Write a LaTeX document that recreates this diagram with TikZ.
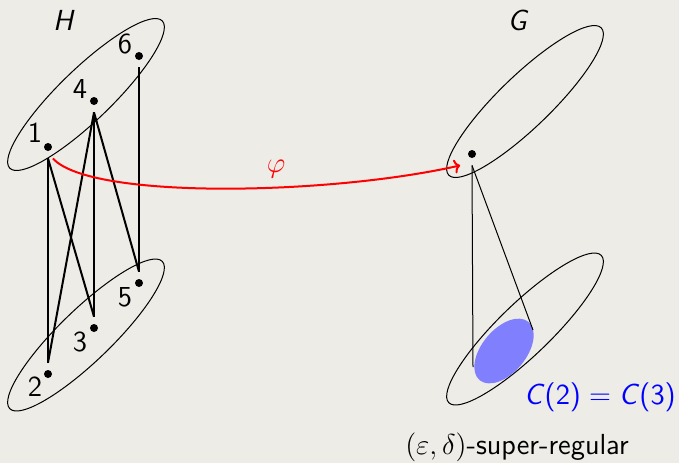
\documentclass[tikz,border=0pt]{standalone}
\usetikzlibrary{arrows.meta}
\definecolor{bg}{RGB}{237,236,231}
\definecolor{blobblue}{RGB}{128,128,255}
\begin{document}
\begin{tikzpicture}[x=0.5pt,y=-0.5pt,
  every node/.style={font=\fontsize{14.5}{17}\selectfont\sffamily},
  vtx/.style={rectangle, inner sep=0pt, minimum width=4.5pt, minimum height=11pt,
    path picture={\fill (path picture bounding box.center) circle (2pt);}},
  edge/.style={line width=1pt},
  setline/.style={line width=0.5pt},
  thin line/.style={line width=0.5pt},
  lbl/.style={inner sep=0pt}]
\fill[bg] (0,0) rectangle (679,463);
\useasboundingbox (0,0) rectangle (679,463);
% sets
\draw[setline, rotate around={44:(86,94.5)}] (86,94.5) ellipse (106 and 26);
\draw[setline, rotate around={44:(86,335)}] (86,335) ellipse (106 and 26);
\draw[setline, rotate around={44:(525,101.5)}] (525,101.5) ellipse (106 and 26);
\draw[setline, rotate around={44:(525,329)}] (525,329) ellipse (106 and 26);
\fill[blobblue, rotate around={50:(504,351)}] (504,351) ellipse (38 and 22);
% vertices of H
\node[vtx] (v1) at (48,147) {};
\node[vtx] (v4) at (94,101) {};
\node[vtx] (v6) at (139,56) {};
\node[vtx] (v2) at (48,374) {};
\node[vtx] (v3) at (94,328) {};
\node[vtx] (v5) at (139,283) {};
\node[lbl] (l1) at (35,133) {1};
\node[lbl] (l4) at (80,89) {4};
\node[lbl] (l6) at (125,44) {6};
\node[lbl] (l2) at (35,387) {2};
\node[lbl] (l3) at (80,342) {3};
\node[lbl] (l5) at (125,297) {5};
\node[lbl] (H) at (64,20) {\textit{H}};
\node[lbl] (G) at (518,20) {\textit{G}};
% edges of H
\draw[edge] (v1.south) -- (v2.north);
\draw[edge] (v1.south) -- (v3.north);
\draw[edge] (v4.south) -- (v2.north);
\draw[edge] (v4.south) -- (v3.north);
\draw[edge] (v4.south) -- (v5.north);
\draw[edge] (v6.south) -- (v5.north);
% vertex of G
\node[vtx] (g) at (472,154) {};
\coordinate (cl) at (473,367);
\coordinate (cr) at (533,330);
\draw[thin line] (g.south) -- (cl);
\draw[thin line] (g.south) -- (cr);
% map
\draw[red, line width=1pt, -{To[length=3pt,width=7pt]}] (v1.south east) .. controls (90,200) and (330,195) .. ([xshift=-3.5pt]g.south west);
\node[lbl, red] (phi) at (276,169) {$\varphi$};
\node[lbl, blue] (C) at (600,397) {\textit{C}(2)${}={}$\textit{C}(3)};
\node[lbl] (sr) at (517,447) {$(\varepsilon,\delta)$-super-regular};
\end{tikzpicture}
\end{document}
